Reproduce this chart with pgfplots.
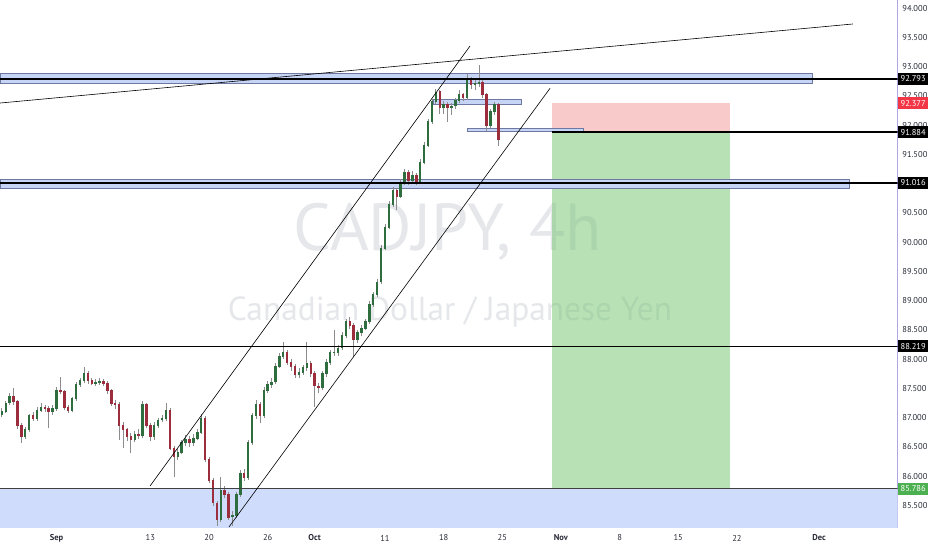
\documentclass[border=0pt]{standalone}
\usepackage{fontspec}
\setmainfont{PT Sans}
\usepackage{graphicx}
\usepackage{pgfplots}
\usepackage{pgfplotstable}
\pgfplotsset{compat=1.18}

\definecolor{upc}{RGB}{46,110,62}
\definecolor{dnc}{RGB}{155,45,60}
\definecolor{wickc}{RGB}{140,140,140}
\definecolor{zonefill}{RGB}{198,212,245}
\definecolor{zoneedge}{RGB}{110,120,160}
\definecolor{basefill}{RGB}{207,220,251}
\definecolor{stopfill}{RGB}{243,151,151}
\definecolor{tgtfill}{RGB}{115,197,111}
\definecolor{axisc}{RGB}{175,165,225}
\definecolor{wm}{RGB}{229,231,234}
\definecolor{txt}{RGB}{40,44,56}
\definecolor{redlab}{RGB}{242,54,69}
\definecolor{greenlab}{RGB}{76,175,80}

% CADJPY 4h, one candle per third of a trading day (t = trading days from 13 Sep)
\pgfplotstableread{
t o h l c
-12.67 87.05 87.16 87.01 87.11
-12.33 87.11 87.29 87.08 87.25
-12.00 87.25 87.42 87.22 87.37
-11.67 87.37 87.51 87.22 87.27
-11.33 87.27 87.30 86.80 86.86
-11.00 86.86 86.90 86.57 86.67
-10.67 86.67 86.84 86.63 86.79
-10.33 86.79 87.07 86.75 87.03
-10.00 87.03 87.10 86.94 86.99
-9.67 86.99 87.18 86.95 87.13
-9.33 87.13 87.25 87.09 87.18
-9.00 87.18 87.22 87.10 87.16
-8.67 87.16 87.20 86.82 87.10
-8.33 87.10 87.21 87.05 87.16
-8.00 87.16 87.52 87.12 87.47
-7.67 87.47 87.69 87.40 87.44
-7.33 87.44 87.48 87.13 87.18
-7.00 87.18 87.22 87.08 87.13
-6.67 87.13 87.36 87.10 87.32
-6.33 87.32 87.61 87.29 87.57
-6.00 87.57 87.68 87.53 87.63
-5.67 87.63 87.87 87.59 87.76
-5.33 87.76 87.80 87.58 87.63
-5.00 87.63 87.68 87.55 87.59
-4.67 87.59 87.66 87.54 87.61
-4.33 87.61 87.67 87.56 87.62
-4.00 87.62 87.66 87.54 87.59
-3.67 87.59 87.62 87.41 87.46
-3.33 87.46 87.49 87.20 87.25
-3.00 87.25 87.30 87.15 87.22
-2.67 87.22 87.26 86.62 86.87
-2.33 86.87 86.93 86.48 86.79
-2.00 86.79 86.83 86.60 86.67
-1.67 86.67 86.74 86.39 86.63
-1.33 86.63 86.77 86.58 86.72
-1.00 86.72 86.80 86.63 86.69
-0.67 86.69 87.28 86.65 87.22
-0.33 87.22 87.25 86.82 86.87
0.00 86.87 86.91 86.60 86.67
0.33 86.67 86.92 86.62 86.87
0.67 86.87 87.00 86.82 86.96
1.00 86.96 87.05 86.92 86.99
1.33 86.99 87.25 86.95 87.13
1.67 87.13 87.16 86.44 86.48
2.00 86.48 86.52 85.98 86.34
2.33 86.34 86.47 86.28 86.41
2.67 86.41 86.62 86.37 86.57
3.00 86.57 86.70 86.52 86.62
3.33 86.62 86.68 86.50 86.58
3.67 86.58 86.72 86.52 86.65
4.00 86.65 86.80 86.61 86.75
4.33 86.75 87.06 86.72 86.99
4.67 86.99 87.02 86.24 86.28
5.00 86.28 86.33 85.88 85.93
5.33 85.93 85.97 85.49 85.54
5.67 85.54 85.58 85.15 85.25
6.00 85.25 85.98 85.21 85.76
6.33 85.76 85.83 85.62 85.68
6.67 85.68 85.72 85.25 85.30
7.00 85.30 85.40 85.15 85.33
7.33 85.33 85.72 85.29 85.68
7.67 85.68 86.10 85.64 86.04
8.00 86.04 86.12 85.92 85.97
8.33 85.97 86.62 85.93 86.57
8.67 86.57 87.08 86.53 87.03
9.00 87.03 87.30 86.98 87.22
9.33 87.22 87.26 86.90 87.04
9.67 87.04 87.52 87.00 87.47
10.00 87.47 87.62 87.42 87.56
10.33 87.56 87.68 87.50 87.61
10.67 87.61 87.93 87.57 87.88
11.00 87.88 88.10 87.84 88.04
11.33 88.04 88.29 88.00 88.12
11.67 88.12 88.16 87.90 87.95
12.00 87.95 88.00 87.80 87.87
12.33 87.87 87.91 87.68 87.73
12.67 87.73 87.84 87.67 87.78
13.00 87.78 87.90 87.73 87.85
13.33 87.85 88.29 87.80 87.93
13.67 87.93 87.97 87.70 87.75
14.00 87.75 87.79 87.18 87.54
14.33 87.54 87.60 87.42 87.51
14.67 87.51 87.80 87.47 87.75
15.00 87.75 88.00 87.70 87.95
15.33 87.95 88.16 87.90 88.11
15.67 88.11 88.50 88.05 88.12
16.00 88.12 88.25 88.06 88.19
16.33 88.19 88.46 88.15 88.41
16.67 88.41 88.68 88.37 88.64
17.00 88.64 88.72 88.52 88.58
17.33 88.58 88.62 88.04 88.33
17.67 88.33 88.50 88.28 88.45
18.00 88.45 88.58 88.40 88.53
18.33 88.53 88.69 88.49 88.64
18.67 88.64 88.99 88.60 88.94
19.00 88.94 89.15 88.90 89.10
19.33 89.10 89.37 89.06 89.32
19.67 89.32 89.95 89.28 89.90
20.00 89.90 90.31 89.86 90.26
20.33 90.26 90.70 90.22 90.65
20.67 90.65 90.95 90.61 90.89
21.00 90.89 90.93 90.55 90.79
21.33 90.79 91.08 90.75 91.03
21.67 91.03 91.25 90.98 91.20
22.00 91.20 91.24 90.98 91.06
22.33 91.06 91.21 91.00 91.15
22.67 91.15 91.19 90.97 91.03
23.00 91.03 91.42 90.99 91.37
23.33 91.37 91.71 91.33 91.66
23.67 91.66 92.11 91.62 92.06
24.00 92.06 92.45 92.02 92.40
24.33 92.40 92.62 92.36 92.57
24.67 92.57 92.60 92.20 92.30
25.00 92.30 92.42 92.20 92.36
25.33 92.36 92.40 92.06 92.30
25.67 92.30 92.38 92.18 92.33
26.00 92.33 92.47 92.28 92.42
26.33 92.42 92.60 92.38 92.52
26.67 92.52 92.56 92.41 92.48
27.00 92.48 92.88 92.44 92.79
27.33 92.79 92.83 92.62 92.69
27.67 92.69 92.77 92.60 92.71
28.00 92.71 93.03 92.66 92.74
28.33 92.74 92.78 92.46 92.52
28.67 92.52 92.55 91.90 92.00
29.00 92.00 92.28 91.96 92.23
29.33 92.23 92.40 92.18 92.35
29.67 92.35 92.38 91.65 91.75
}\candles

\begin{document}
\begin{tikzpicture}
\path[use as bounding box, fill=white] (0,-23pt) rectangle (932pt,527pt);
\begin{axis}[
  scale only axis, width=897.7pt, height=527pt,
  xmin=-12.82, xmax=63.71, ymin=85.129, ymax=94.142,
  axis x line*=bottom, axis y line*=right,
  axis line style={draw=axisc, line width=0.8pt},
  major tick length=0pt,
  clip mode=individual,
  xtick={-8,0,5,10,14,20,25,30,35,40,45,50,57},
  xticklabels={\textbf{Sep},13,20,26,\textbf{Oct},11,18,25,\textbf{Nov},8,15,22,\textbf{Dec}},
  xticklabel style={anchor=center, yshift=-11pt, font=\fontsize{8.5}{10}\selectfont, text=txt},
  ytick={85.5,86,86.5,87,87.5,88,88.5,89,89.5,90,90.5,91,91.5,92,92.5,93,93.5,94},
  scaled y ticks=false,
  yticklabel style={anchor=west, inner sep=0pt, xshift=4.5pt, font=\fontsize{8.5}{10}\selectfont, text=txt,
    /pgf/number format/fixed, /pgf/number format/fixed zerofill, /pgf/number format/precision=3},
  /pgf/number format/assume math mode=true,
]
% watermark
\node[anchor=base, text=wm, inner sep=0pt] at (axis cs:25.37,89.866)
  {\resizebox{308pt}{!}{CADJPY, 4h}};
\node[anchor=base, text=wm, inner sep=0pt] at (axis cs:25.54,88.669)
  {\resizebox{444pt}{!}{Canadian Dollar / Japanese Yen}};

% demand zone at the bottom
\addplot[fill=basefill, draw=none] coordinates {(-12.82,85.0) (63.71,85.0) (63.71,85.786) (-12.82,85.786)} -- cycle;
% short position: stop and target (see-through, watermark shows)
\addplot[fill=stopfill, fill opacity=0.5, draw=none] coordinates {(34.24,91.884) (49.41,91.884) (49.41,92.377) (34.24,92.377)} -- cycle;
\addplot[fill=tgtfill, fill opacity=0.5, draw=none] coordinates {(34.24,85.786) (49.41,85.786) (49.41,91.884) (34.24,91.884)} -- cycle;
% supply / support zones
\addplot[fill=zonefill, draw=zoneedge, line width=0.8pt] coordinates {(-12.82,92.717) (56.46,92.717) (56.46,92.888) (-12.82,92.888)} -- cycle;
\addplot[fill=zonefill, draw=zoneedge, line width=0.8pt] coordinates {(-12.82,90.922) (59.56,90.922) (59.56,91.076) (-12.82,91.076)} -- cycle;
\addplot[fill=zonefill, draw=zoneedge, line width=0.8pt] coordinates {(24.1,92.36) (31.6,92.36) (31.6,92.45) (24.1,92.45)} -- cycle;
\addplot[fill=zonefill, draw=zoneedge, line width=0.8pt] coordinates {(27.02,91.90) (36.9,91.90) (36.9,91.95) (27.02,91.95)} -- cycle;

% wicks
\addplot[draw=none, mark=none,
  error bars/.cd, y dir=plus, y explicit, error mark=none,
  error bar style={draw=wickc, line width=0.6pt}]
  table[x=t, y=l, y error expr=\thisrow{h}-\thisrow{l}] {\candles};
% up bodies
\addplot[draw=none, mark=none, unbounded coords=discard,
  error bars/.cd, y dir=both, y explicit, error mark=none,
  error bar style={draw=upc, line width=2.4pt}]
  table[x=t, y expr={\thisrow{c}>=\thisrow{o} ? (\thisrow{o}+\thisrow{c})/2 : nan},
        y error expr={abs(\thisrow{c}-\thisrow{o})/2+0.008}] {\candles};
% down bodies
\addplot[draw=none, mark=none, unbounded coords=discard,
  error bars/.cd, y dir=both, y explicit, error mark=none,
  error bar style={draw=dnc, line width=2.4pt}]
  table[x=t, y expr={\thisrow{c}<\thisrow{o} ? (\thisrow{o}+\thisrow{c})/2 : nan},
        y error expr={abs(\thisrow{c}-\thisrow{o})/2+0.008}] {\candles};

% horizontal levels
\addplot[black, line width=1.5pt] coordinates {(-12.82,92.793) (63.71,92.793)};
\addplot[black, line width=1.5pt] coordinates {(-12.82,91.016) (63.71,91.016)};
\addplot[black, line width=1.5pt] coordinates {(-12.82,88.219) (63.71,88.219)};
\addplot[black, line width=1.2pt] coordinates {(34.24,91.884) (63.71,91.884)};
\addplot[black!75, line width=0.7pt] coordinates {(-12.82,85.786) (63.71,85.786)};
% rising channel and long trend line
\addplot[black, line width=0.6pt] coordinates {(-0.03,85.830) (27.25,93.355)};
\addplot[black, line width=0.6pt] coordinates {(6.70,85.129) (34.07,92.632)};
\addplot[black, line width=0.6pt] coordinates {(-12.82,92.380) (59.89,93.732)};

\coordinate (r1) at (axis cs:63.71,92.793);
\coordinate (r2) at (axis cs:63.71,92.377);
\coordinate (r3) at (axis cs:63.71,91.884);
\coordinate (r4) at (axis cs:63.71,91.016);
\coordinate (r5) at (axis cs:63.71,88.219);
\coordinate (r6) at (axis cs:63.71,85.786);
\end{axis}
\tikzset{plab/.style={anchor=west, text=white, inner sep=0pt, minimum width=30.5pt, minimum height=12pt, font=\fontsize{8.5}{10}\selectfont}}
\node[plab, fill=black] at (r1) {92.793};
\node[plab, fill=redlab] at (r2) {92.377};
\node[plab, fill=black] at (r3) {91.884};
\node[plab, fill=black] at (r4) {91.016};
\node[plab, fill=black] at (r5) {88.219};
\node[plab, fill=greenlab] at (r6) {85.786};
\end{tikzpicture}
\end{document}
